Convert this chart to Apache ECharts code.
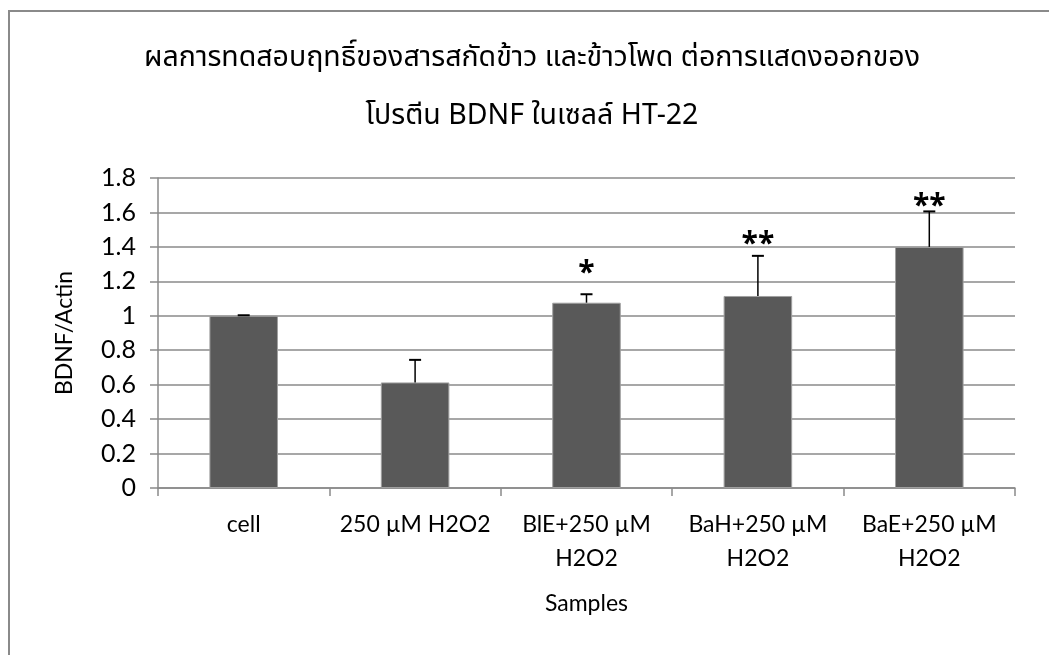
<!DOCTYPE html>
<html>
<head>
<meta charset="utf-8">
<script src="https://cdn.jsdelivr.net/npm/echarts@6/dist/echarts.min.js"></script>
<style>
  html, body { margin: 0; padding: 0; background: #fff; }
  #chart { width: 1049px; height: 655px; }
</style>
</head>
<body>
<div id="chart"></div>
<script>
// Sample groups along the x axis
const categories = ['cell', '250 µM H2O2', 'BlE+250 µM\nH2O2', 'BaH+250 µM\nH2O2', 'BaE+250 µM\nH2O2'];
// Mean BDNF/Actin ratio per group
const means = [1.0, 0.613, 1.076, 1.115, 1.40];
// Upper error (SD) per group
const errors = [0.003, 0.131, 0.049, 0.233, 0.206];
// Significance marks and the BDNF/Actin level each one is centred on
const marks = ['', '', '*', '**', '**'];
const markLevels = [null, null, 1.27, 1.44, 1.66];
// Y axis ticks
const yTicks = { min: 0, max: 1.8, interval: 0.2 };

const titleLines = ['ผลการทดสอบฤทธิ์ของสารสกัดข้าว และข้าวโพด ต่อการแสดงออกของ', 'โปรตีน BDNF ในเซลล์ HT-22'];

const latin = "Lato, 'Open Sans', 'Noto Sans', sans-serif";
const starFont = "'Open Sans', 'Noto Sans', sans-serif";
const thai = "'Noto Sans Thai', 'Noto Sans Thai Looped', 'Loma', 'Garuda', 'Norasi', 'DejaVu Sans', sans-serif";

const chart = echarts.init(document.getElementById('chart'), null, { renderer: 'canvas' });

const option = {
  backgroundColor: '#ffffff',
  animation: false,
  graphic: [
    {
      type: 'rect', silent: true, z: -1,
      shape: { x: 9, y: 11, width: 1100, height: 700 },
      style: { fill: 'none', stroke: '#8a8a8a', lineWidth: 2 }
    },
    {
      type: 'text', x: 532, y: 60,
      style: { text: titleLines[0], font: '28.5px ' + thai, fill: '#000', align: 'center', verticalAlign: 'middle' }
    },
    {
      type: 'text', x: 532, y: 118,
      style: { text: titleLines[1], font: '28.5px ' + thai, fill: '#000', align: 'center', verticalAlign: 'middle' }
    }
  ],
  grid: { left: 158, right: 34, top: 178, bottom: 167, containLabel: false },
  xAxis: {
    type: 'category',
    data: categories,
    name: 'Samples',
    nameLocation: 'middle',
    nameGap: 104,
    nameTextStyle: { fontFamily: latin, fontSize: 23, color: '#000' },
    axisLine: { show: true, lineStyle: { color: '#8a8a8a', width: 1.5 } },
    axisTick: { show: true, alignWithLabel: false, length: 8, lineStyle: { color: '#8a8a8a', width: 1.5 } },
    axisLabel: { fontFamily: latin, fontSize: 23, color: '#000', margin: 20, lineHeight: 34, interval: 0 },
    splitLine: { show: false }
  },
  yAxis: {
    type: 'value',
    min: yTicks.min, max: yTicks.max, interval: yTicks.interval,
    name: 'BDNF/Actin',
    nameLocation: 'middle',
    nameGap: 82,
    nameRotate: 90,
    nameTextStyle: { fontFamily: latin, fontSize: 23, color: '#000' },
    axisLine: { show: true, lineStyle: { color: '#8a8a8a', width: 1.5 } },
    axisTick: { show: true, length: 8, lineStyle: { color: '#8a8a8a', width: 1.5 } },
    axisLabel: {
      fontFamily: latin, fontSize: 25, color: '#000', margin: 22,
      formatter: v => (Math.round(v * 10) / 10).toString()
    },
    splitLine: { show: true, lineStyle: { color: '#8a8a8a', width: 1.5 } }
  },
  series: [
    {
      type: 'bar',
      data: means,
      barWidth: '40%',
      itemStyle: { color: '#595959', borderColor: '#a0a0a0', borderWidth: 1 },
      z: 2
    },
    {
      // upward error bars with significance stars
      type: 'custom',
      z: 3,
      data: means.map((m, i) => [i, m, m + errors[i], markLevels[i] == null ? m : markLevels[i]]),
      renderItem: (params, api) => {
        const i = api.value(0);
        const base = api.coord([i, api.value(1)]);
        const top = api.coord([i, api.value(2)]);
        const star = api.coord([i, api.value(3)]);
        const half = 6;
        const children = [
          { type: 'line', shape: { x1: base[0], y1: base[1], x2: top[0], y2: top[1] }, style: { stroke: '#000', lineWidth: 1.5 } },
          { type: 'line', shape: { x1: top[0] - half, y1: top[1], x2: top[0] + half, y2: top[1] }, style: { stroke: '#000', lineWidth: 2 } }
        ];
        const mark = marks[params.dataIndex];
        if (mark) {
          // the asterisk glyph sits high in its line box, so shift the box down to centre the glyph
          children.push({
            type: 'text',
            x: star[0], y: star[1] + 4,
            style: { text: mark, font: 'bold 30px ' + starFont, fill: '#000', align: 'center', verticalAlign: 'middle' }
          });
        }
        return { type: 'group', children };
      }
    }
  ]
};

chart.setOption(option);
</script>
</body>
</html>
